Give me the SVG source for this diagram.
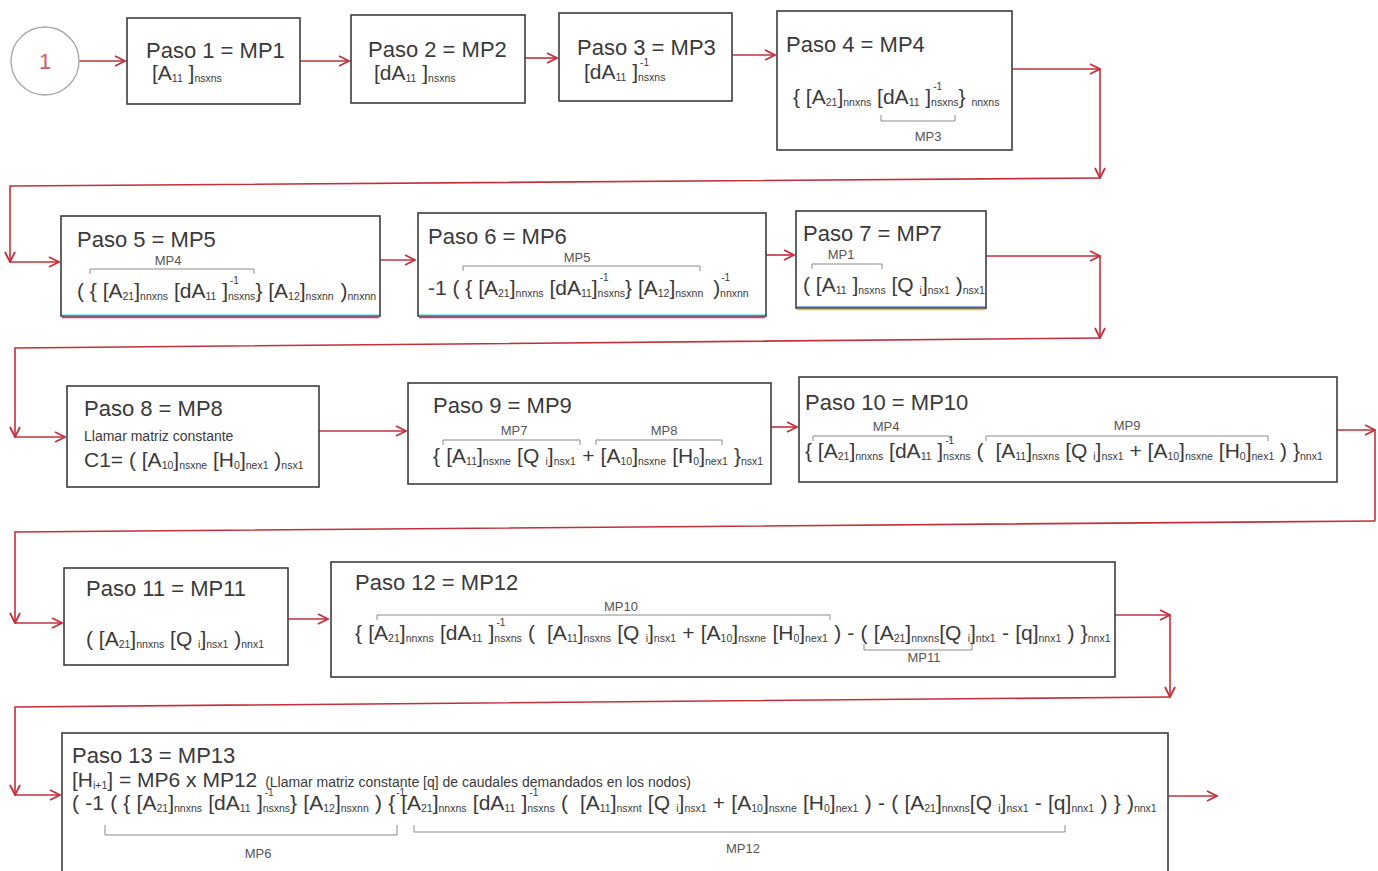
<svg xmlns="http://www.w3.org/2000/svg" width="1378" height="871" viewBox="0 0 1378 871">
<defs>
<style>
.box{fill:#fff;stroke:#3c3c3c;stroke-width:1.6}
.t{font-family:"Liberation Sans",Arial,sans-serif;fill:#3a3a3a}
.h{font-size:22px}
.f{font-size:21px}
.s{font-size:10.5px}
.u{font-size:10px}
.n{font-size:14px}
.w{word-spacing:0.4px}
.lbl{font-family:"Liberation Sans",Arial,sans-serif;font-size:13px;fill:#555;text-anchor:middle}
.br{fill:none;stroke:#8a8a8a;stroke-width:1}
.c{fill:none;stroke:#c3303d;stroke-width:1.6}
.a{marker-end:url(#ah)}
</style>
<marker id="ah" viewBox="0 0 12 12" refX="11" refY="6" markerWidth="12" markerHeight="12" markerUnits="userSpaceOnUse" orient="auto">
<path d="M1,1 L11,6 L1,11" fill="none" stroke="#c3303d" stroke-width="1.8"/>
</marker>
</defs>
<rect width="1378" height="871" fill="#fff"/>

<!-- connectors -->
<g id="connectors">
<path class="c a" d="M79,61 H125"/>
<path class="c a" d="M300,61 H349"/>
<path class="c a" d="M525,58 H557"/>
<path class="c a" d="M732,55 H775"/>
<path class="c a" d="M1012,69 H1100"/>
<path class="c a" d="M1100,69 V178"/>
<path class="c a" d="M1100,178 L10,186 V262"/>
<path class="c a" d="M10,262 H59"/>

<path class="c a" d="M380,260 H415"/>
<path class="c a" d="M766,255 H794"/>
<path class="c a" d="M986,256 H1100"/>
<path class="c a" d="M1100,256 V338"/>
<path class="c a" d="M1100,338 L15,348 V437"/>
<path class="c a" d="M15,437 H65"/>

<path class="c a" d="M319,431 H406"/>
<path class="c a" d="M771,427 H797"/>
<path class="c a" d="M1337,430 H1375"/>
<path class="c" d="M1375,430 V521"/>
<path class="c a" d="M1375,521 L15,532 V623"/>
<path class="c a" d="M15,623 H62"/>

<path class="c a" d="M288,619 H328"/>
<path class="c a" d="M1115,615 H1170"/>
<path class="c a" d="M1170,615 V697"/>
<path class="c a" d="M1170,697 L15,707 V795"/>
<path class="c a" d="M15,795 H60"/>
<path class="c a" d="M1168,796 H1217"/>
</g>

<!-- start marker -->
<g id="start">
<circle cx="45" cy="61" r="34" fill="#fff" stroke="#aaa" stroke-width="1.4"/>
<text x="45" y="69" text-anchor="middle" style="font-family:'Liberation Sans',Arial,sans-serif;font-size:22px;fill:#d65a6a">1</text>
</g>

<g id="paso1">
<rect class="box" x="127" y="18" width="173" height="86"/>
<text class="t h" x="146" y="58">Paso 1 = MP1</text>
<text class="t f" x="152" y="80">[A<tspan class="s" dy="2">11</tspan><tspan dy="-2"> ]</tspan><tspan class="s" dy="2">nsxns</tspan></text>
</g>

<g id="paso2">
<rect class="box" x="351" y="15" width="174" height="88"/>
<text class="t h" x="368" y="57">Paso 2 = MP2</text>
<text class="t f" x="374" y="80">[dA<tspan class="s" dy="2">11</tspan><tspan dy="-2"> ]</tspan><tspan class="s" dy="2">nsxns</tspan></text>
</g>

<g id="paso3">
<rect class="box" x="559" y="13" width="173" height="88"/>
<text class="t h" x="577" y="55">Paso 3 = MP3</text>
<text class="t f" x="584" y="79">[dA<tspan class="s" dy="2">11</tspan><tspan dy="-2"> ]</tspan><tspan class="u" dx="2" dy="-13">-1</tspan><tspan class="s" dx="-11" dy="15">nsxns</tspan></text>
</g>

<g id="paso4">
<rect class="box" x="777" y="11" width="235" height="139"/>
<text class="t h" x="786" y="52">Paso 4 = MP4</text>
<text class="t f" x="793" y="104">{ [A<tspan class="s" dy="2">21</tspan><tspan dy="-2">]</tspan><tspan class="s" dy="2">nnxns</tspan><tspan dy="-2"> [dA</tspan><tspan class="s" dy="2">11</tspan><tspan dy="-2"> ]</tspan><tspan class="u" dx="2" dy="-14">-1</tspan><tspan class="s" dx="-11" dy="16">nsxns</tspan><tspan dy="-2">} </tspan><tspan class="s" dy="2">nnxns</tspan></text>
<path class="br" d="M881,115 V121 H955 V115"/>
<text class="lbl" x="928" y="141">MP3</text>
</g>

<g id="paso5">
<rect class="box" x="61" y="216" width="319" height="100"/>
<path d="M62,315 H379" stroke="#3cd6e0" stroke-width="1.2"/>
<path d="M62,317.5 H379" stroke="#e0307a" stroke-width="1.4"/>
<text class="t h" x="77" y="247">Paso 5 = MP5</text>
<text class="lbl" x="168" y="265">MP4</text>
<path class="br" d="M90,274 V269 H254 V274"/>
<text class="t f" x="77" y="298">( { [A<tspan class="s" dy="2">21</tspan><tspan dy="-2">]</tspan><tspan class="s" dy="2">nnxns</tspan><tspan dy="-2"> [dA</tspan><tspan class="s" dy="2">11</tspan><tspan dy="-2"> ]</tspan><tspan class="u" dx="2" dy="-14">-1</tspan><tspan class="s" dx="-11" dy="16">nsxns</tspan><tspan dy="-2">} [A</tspan><tspan class="s" dy="2">12</tspan><tspan dy="-2">]</tspan><tspan class="s" dy="2">nsxnn</tspan><tspan dx="1" dy="-2"> )</tspan><tspan class="s" dy="2">nnxnn</tspan></text>
</g>

<g id="paso6">
<rect class="box" x="418" y="213" width="348" height="103"/>
<path d="M419,315 H765" stroke="#3cd6e0" stroke-width="1.2"/>
<path d="M419,317.5 H765" stroke="#e0307a" stroke-width="1.4"/>
<text class="t h" x="428" y="244">Paso 6 = MP6</text>
<text class="lbl" x="577" y="262">MP5</text>
<path class="br" d="M463,271 V266 H700 V271"/>
<text class="t f" x="428" y="295">-1 ( { [A<tspan class="s" dy="2">21</tspan><tspan dy="-2">]</tspan><tspan class="s" dy="2">nnxns</tspan><tspan dy="-2"> [dA</tspan><tspan class="s" dy="2">11</tspan><tspan dy="-2">]</tspan><tspan class="u" dx="2" dy="-14">-1</tspan><tspan class="s" dx="-11" dy="16">nsxns</tspan><tspan dy="-2">} [A</tspan><tspan class="s" dy="2">12</tspan><tspan dy="-2">]</tspan><tspan class="s" dy="2">nsxnn</tspan><tspan dx="4" dy="-2"> )</tspan><tspan class="u" dx="1" dy="-14">-1</tspan><tspan class="s" dx="-10" dy="16">nnxnn</tspan></text>
</g>

<g id="paso7">
<rect class="box" x="796" y="211" width="190" height="97"/>
<path d="M797,307 H985" stroke="#3050d0" stroke-width="1.2"/>
<path d="M797,309.5 H985" stroke="#e0c020" stroke-width="1.4"/>
<text class="t h" x="803" y="241">Paso 7 = MP7</text>
<text class="lbl" x="841" y="259">MP1</text>
<path class="br" d="M812,269 V264 H882 V269"/>
<text class="t f" x="803" y="292">( [A<tspan class="s" dy="2">11</tspan><tspan dy="-2"> ]</tspan><tspan class="s" dy="2">nsxns</tspan><tspan dy="-2"> [Q </tspan><tspan class="s" dy="2">i</tspan><tspan dy="-2">]</tspan><tspan class="s" dy="2">nsx1</tspan><tspan dy="-2"> )</tspan><tspan class="s" dy="2">nsx1</tspan></text>
</g>

<g id="paso8">
<rect class="box" x="67" y="386" width="252" height="101"/>
<text class="t h" x="84" y="416">Paso 8 = MP8</text>
<text class="t n" x="84" y="441">Llamar matriz constante</text>
<text class="t f" x="84" y="467">C1= ( [A<tspan class="s" dy="2">10</tspan><tspan dy="-2">]</tspan><tspan class="s" dy="2">nsxne</tspan><tspan dy="-2"> [H</tspan><tspan class="s" dy="2">0</tspan><tspan dy="-2">]</tspan><tspan class="s" dy="2">nex1</tspan><tspan dy="-2"> )</tspan><tspan class="s" dy="2">nsx1</tspan></text>
</g>

<g id="paso9">
<rect class="box" x="408" y="383" width="363" height="101"/>
<text class="t h" x="433" y="413">Paso 9 = MP9</text>
<text class="lbl" x="514" y="435">MP7</text>
<path class="br" d="M443,445 V440 H580 V445"/>
<text class="lbl" x="664" y="435">MP8</text>
<path class="br" d="M596,445 V440 H722 V445"/>
<text class="t f w" x="433" y="463">{ [A<tspan class="s" dy="2">11</tspan><tspan dy="-2">]</tspan><tspan class="s" dy="2">nsxne</tspan><tspan dy="-2"> [Q </tspan><tspan class="s" dy="2">i</tspan><tspan dy="-2">]</tspan><tspan class="s" dy="2">nsx1</tspan><tspan dy="-2"> + [A</tspan><tspan class="s" dy="2">10</tspan><tspan dy="-2">]</tspan><tspan class="s" dy="2">nsxne</tspan><tspan dy="-2"> [H</tspan><tspan class="s" dy="2">0</tspan><tspan dy="-2">]</tspan><tspan class="s" dy="2">nex1</tspan><tspan dy="-2"> }</tspan><tspan class="s" dy="2">nsx1</tspan></text>
</g>

<g id="paso10">
<rect class="box" x="799" y="377" width="538" height="105"/>
<text class="t h" x="805" y="410">Paso 10 = MP10</text>
<text class="lbl" x="886" y="431">MP4</text>
<path class="br" d="M813,441 V436 H950 V441"/>
<text class="lbl" x="1127" y="430">MP9</text>
<path class="br" d="M986,441 V436 H1268 V441"/>
<text class="t f" x="805" y="458">{ [A<tspan class="s" dy="2">21</tspan><tspan dy="-2">]</tspan><tspan class="s" dy="2">nnxns</tspan><tspan dy="-2"> [dA</tspan><tspan class="s" dy="2">11</tspan><tspan dy="-2"> ]</tspan><tspan class="u" dx="2" dy="-14">-1</tspan><tspan class="s" dx="-11" dy="16">nsxns</tspan><tspan dy="-2"> (</tspan><tspan dx="12">[A</tspan><tspan class="s" dy="2">11</tspan><tspan dy="-2">]</tspan><tspan class="s" dy="2">nsxns</tspan><tspan dy="-2"> [Q </tspan><tspan class="s" dy="2">i</tspan><tspan dy="-2">]</tspan><tspan class="s" dy="2">nsx1</tspan><tspan dy="-2"> + [A</tspan><tspan class="s" dy="2">10</tspan><tspan dy="-2">]</tspan><tspan class="s" dy="2">nsxne</tspan><tspan dy="-2"> [H</tspan><tspan class="s" dy="2">0</tspan><tspan dy="-2">]</tspan><tspan class="s" dy="2">nex1</tspan><tspan dy="-2"> ) }</tspan><tspan class="s" dy="2">nnx1</tspan></text>
</g>

<g id="paso11">
<rect class="box" x="64" y="568" width="224" height="97"/>
<text class="t h" x="86" y="596">Paso 11 = MP11</text>
<text class="t f" x="86" y="646">( [A<tspan class="s" dy="2">21</tspan><tspan dy="-2">]</tspan><tspan class="s" dy="2">nnxns</tspan><tspan dy="-2"> [Q </tspan><tspan class="s" dy="2">i</tspan><tspan dy="-2">]</tspan><tspan class="s" dy="2">nsx1</tspan><tspan dy="-2"> )</tspan><tspan class="s" dy="2">nnx1</tspan></text>
</g>

<g id="paso12">
<rect class="box" x="331" y="562" width="784" height="115"/>
<text class="t h" x="355" y="590">Paso 12 = MP12</text>
<text class="lbl" x="621" y="611">MP10</text>
<path class="br" d="M377,620 V615 H830 V620"/>
<text class="t f w" x="355" y="640">{ [A<tspan class="s" dy="2">21</tspan><tspan dy="-2">]</tspan><tspan class="s" dy="2">nnxns</tspan><tspan dy="-2"> [dA</tspan><tspan class="s" dy="2">11</tspan><tspan dy="-2"> ]</tspan><tspan class="u" dx="2" dy="-14">-1</tspan><tspan class="s" dx="-11" dy="16">nsxns</tspan><tspan dy="-2"> (</tspan><tspan dx="12">[A</tspan><tspan class="s" dy="2">11</tspan><tspan dy="-2">]</tspan><tspan class="s" dy="2">nsxns</tspan><tspan dy="-2"> [Q </tspan><tspan class="s" dy="2">i</tspan><tspan dy="-2">]</tspan><tspan class="s" dy="2">nsx1</tspan><tspan dy="-2"> + [A</tspan><tspan class="s" dy="2">10</tspan><tspan dy="-2">]</tspan><tspan class="s" dy="2">nsxne</tspan><tspan dy="-2"> [H</tspan><tspan class="s" dy="2">0</tspan><tspan dy="-2">]</tspan><tspan class="s" dy="2">nex1</tspan><tspan dy="-2"> ) - ( [A</tspan><tspan class="s" dy="2">21</tspan><tspan dy="-2">]</tspan><tspan class="s" dy="2">nnxns</tspan><tspan dy="-2">[Q </tspan><tspan class="s" dy="2">i</tspan><tspan dy="-2">]</tspan><tspan class="s" dy="2">ntx1</tspan><tspan dy="-2"> - [q]</tspan><tspan class="s" dy="2">nnx1</tspan><tspan dy="-2"> ) }</tspan><tspan class="s" dy="2">nnx1</tspan></text>
<path class="br" d="M864,644 V650 H972 V644"/>
<text class="lbl" x="924" y="662">MP11</text>
</g>

<g id="paso13">
<rect class="box" x="62" y="733" width="1106" height="145"/>
<text class="t h" x="72" y="763">Paso 13 = MP13</text>
<text class="t f" x="72" y="787">[H<tspan class="s" dy="2">i+1</tspan><tspan dy="-2">] = MP6 x MP12 </tspan><tspan class="n" dx="2">(Llamar matriz constante [q] de caudales demandados en los nodos)</tspan></text>
<text class="t f w" x="72" y="810">( -1 ( { [A<tspan class="s" dy="2">21</tspan><tspan dy="-2">]</tspan><tspan class="s" dy="2">nnxns</tspan><tspan dy="-2"> [dA</tspan><tspan class="s" dy="2">11</tspan><tspan dy="-2"> ]</tspan><tspan class="u" dx="2" dy="-14">-1</tspan><tspan class="s" dx="-11" dy="16">nsxns</tspan><tspan dy="-2">} [A</tspan><tspan class="s" dy="2">12</tspan><tspan dy="-2">]</tspan><tspan class="s" dy="2">nsxnn</tspan><tspan dy="-2"> ) {</tspan><tspan class="u" dx="1" dy="-14">-1</tspan><tspan dx="-4" dy="14">[A</tspan><tspan class="s" dy="2">21</tspan><tspan dy="-2">]</tspan><tspan class="s" dy="2">nnxns</tspan><tspan dy="-2"> [dA</tspan><tspan class="s" dy="2">11</tspan><tspan dy="-2"> ]</tspan><tspan class="u" dx="2" dy="-14">-1</tspan><tspan class="s" dx="-11" dy="16">nsxns</tspan><tspan dy="-2"> (</tspan><tspan dx="12">[A</tspan><tspan class="s" dy="2">11</tspan><tspan dy="-2">]</tspan><tspan class="s" dy="2">nsxnt</tspan><tspan dy="-2"> [Q </tspan><tspan class="s" dy="2">i</tspan><tspan dy="-2">]</tspan><tspan class="s" dy="2">nsx1</tspan><tspan dy="-2"> + [A</tspan><tspan class="s" dy="2">10</tspan><tspan dy="-2">]</tspan><tspan class="s" dy="2">nsxne</tspan><tspan dy="-2"> [H</tspan><tspan class="s" dy="2">0</tspan><tspan dy="-2">]</tspan><tspan class="s" dy="2">nex1</tspan><tspan dy="-2"> ) - ( [A</tspan><tspan class="s" dy="2">21</tspan><tspan dy="-2">]</tspan><tspan class="s" dy="2">nnxns</tspan><tspan dy="-2">[Q </tspan><tspan class="s" dy="2">i</tspan><tspan dy="-2">]</tspan><tspan class="s" dy="2">nsx1</tspan><tspan dy="-2"> - [q]</tspan><tspan class="s" dy="2">nnx1</tspan><tspan dy="-2"> ) } )</tspan><tspan class="s" dy="2">nnx1</tspan></text>
<path class="br" d="M105,825 V835 H397 V825"/>
<text class="lbl" x="258" y="858">MP6</text>
<path class="br" d="M414,825 V832 H1065 V825"/>
<text class="lbl" x="743" y="853">MP12</text>
</g>
</svg>
